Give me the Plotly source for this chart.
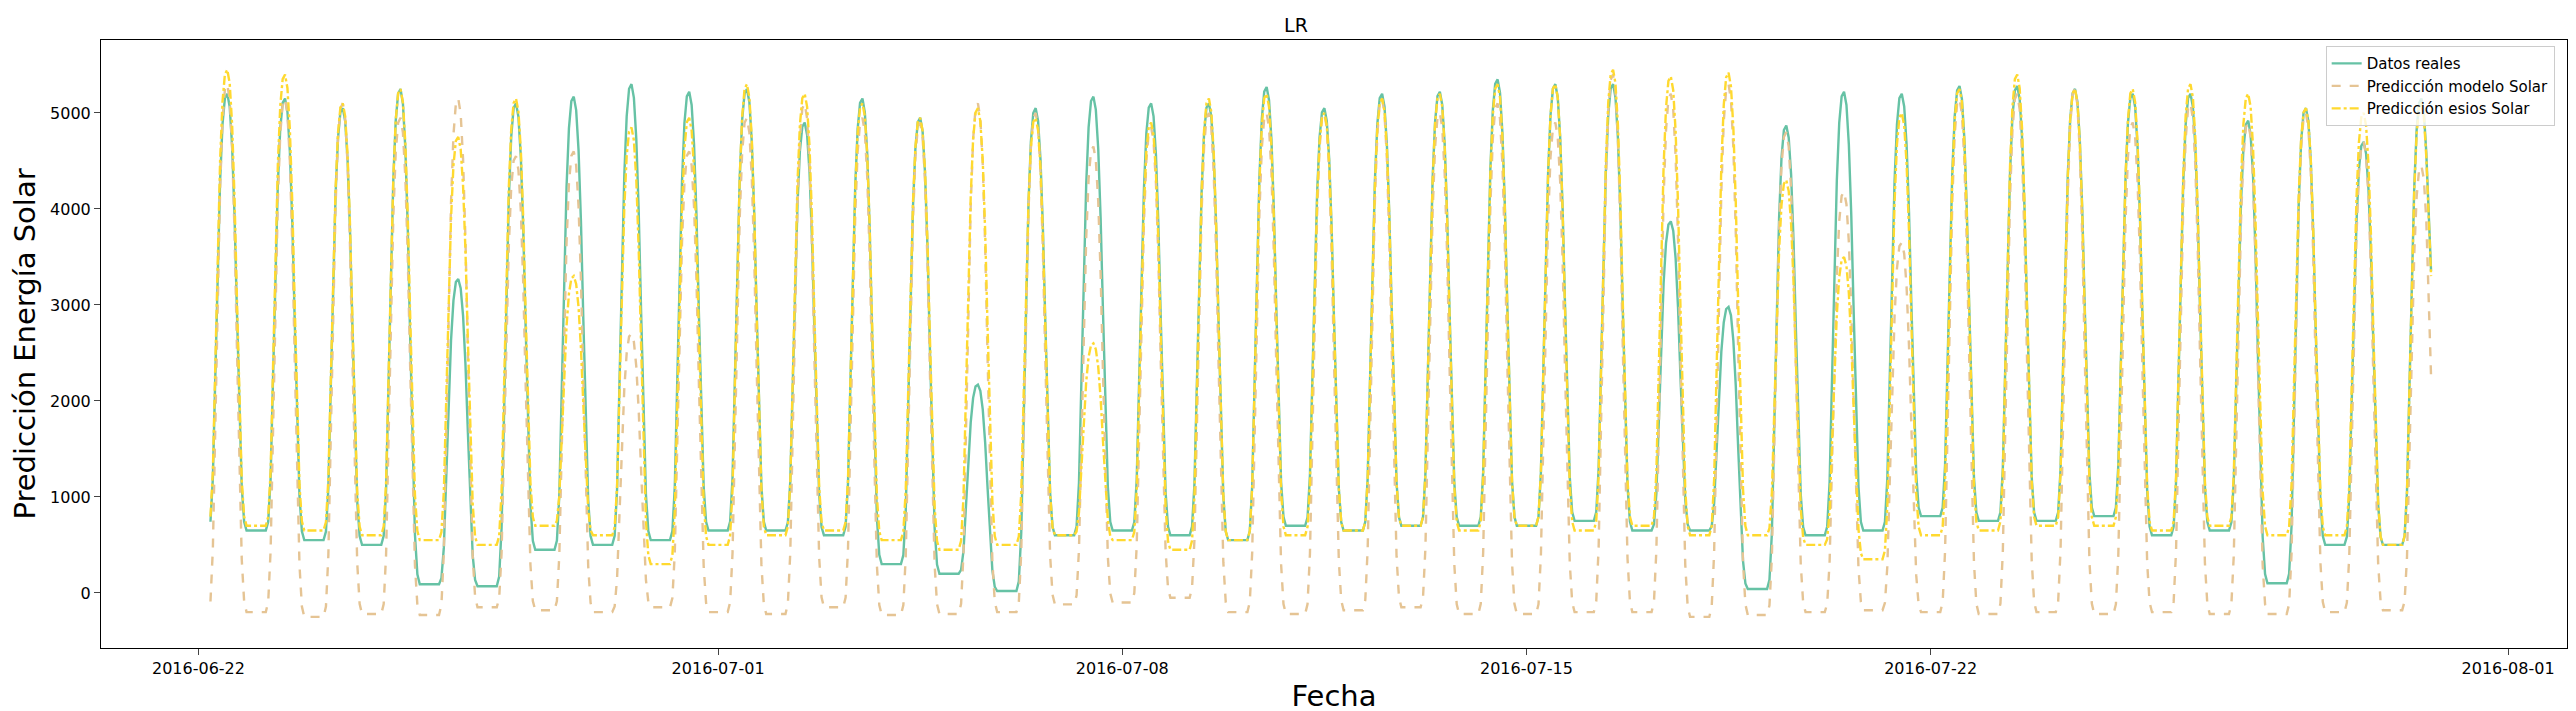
import plotly.graph_objects as go
import pandas as pd

# Daily peak values (one per day, 2016-06-22 .. 2016-07-30)
real_peak = [5200,5150,5050,5250,3270,5100,5170,5300,5220,5250,4900,5150,4950,2170,5050,
             5170,5100,5100,5270,5050,5200,5220,5350,5300,5300,3870,2980,4870,5220,5200,
             5280,5280,5250,5200,5200,4920,5050,4700,5150]
model_peak = [5300,5150,5100,4950,5150,4550,4600,2700,4600,4950,5100,4950,4900,5100,5000,
              4650,4850,5000,5000,5000,5150,5000,5100,4900,5400,5200,5300,4800,4180,3650,
              5150,5200,5250,4900,5100,4900,5000,4700,4450]
esios_peak = [5450,5400,5100,5250,4750,5150,3300,4850,4950,5300,5200,5100,4950,5050,4950,
              2600,4900,5150,5200,5000,5150,5200,5300,5300,5450,5380,5420,4300,3500,5000,
              5250,5400,5250,5250,5300,5200,5050,5000,5100]
# Night levels (one per day)
real_night = [650,550,500,90,70,450,500,550,650,650,600,300,200,20,600,650,600,550,700,650,
              700,700,700,750,650,650,40,600,650,800,750,750,800,600,650,100,500,500]
model_night = [-200,-250,-220,-230,-150,-180,-200,-150,-200,-220,-150,-230,-220,-200,-120,-100,
               -50,-200,-220,-180,-150,-220,-220,-200,-200,-250,-230,-200,-180,-200,-220,-200,
               -220,-200,-220,-220,-200,-180]
esios_night = [700,650,600,550,500,700,600,300,500,600,650,550,450,500,600,550,450,550,600,650,
               700,650,700,650,700,600,600,500,350,600,650,700,700,650,700,600,600,500]
# Last values of each series (end of data)
end_vals = [3350, 2250, 3300]
# Fixed hourly daylight profile (fraction of peak above night level), hours 0..23
profile = [0,0,0,0,0,0.02,0.12,0.35,0.6,0.8,0.93,0.99,1.0,0.97,0.88,0.72,0.5,0.28,0.1,0.02,0,0,0,0]

times, real, model, esios = [], [], [], []
start = pd.Timestamp("2016-06-22")
last = len(real_peak) - 1
for d in range(len(real_peak)):
    for h in range(24):
        if (d == 0 and h < 5) or (d == last and h > 14):
            continue
        f = profile[h]
        i = d if (h > 12 or d == 0) else d - 1
        i = min(i, len(real_night) - 1)
        times.append(start + pd.Timedelta(days=d, hours=h))
        real.append(real_night[i] + (real_peak[d] - real_night[i]) * f)
        model.append(model_night[i] + (model_peak[d] - model_night[i]) * f)
        esios.append(esios_night[i] + (esios_peak[d] - esios_night[i]) * f)
times.append(start + pd.Timedelta(days=last, hours=16))
real.append(end_vals[0]); model.append(end_vals[1]); esios.append(end_vals[2])

fig = go.Figure()
fig.add_trace(go.Scatter(x=times, y=real, mode="lines", name="Datos reales",
                         line=dict(color="#66c2a5", width=2.4)))
fig.add_trace(go.Scatter(x=times, y=model, mode="lines", name="Predicción modelo Solar",
                         line=dict(color="#e5c494", width=2.4, dash="dash")))
fig.add_trace(go.Scatter(x=times, y=esios, mode="lines", name="Predicción esios Solar",
                         line=dict(color="#ffd92f", width=2.4, dash="dashdot")))

tickvals = ["2016-06-22", "2016-07-01", "2016-07-08", "2016-07-15", "2016-07-22", "2016-08-01"]
fig.update_layout(
    width=2576, height=711, plot_bgcolor="white", paper_bgcolor="white",
    margin=dict(l=87, r=17, t=32, b=66),
    font=dict(family="DejaVu Sans", color="black", size=16),
    title=dict(text="LR", x=0.5, xanchor="center", y=0.985, yanchor="top", font=dict(size=19)),
    legend=dict(x=0.995, y=0.99, xanchor="right", yanchor="top", bordercolor="#cccccc",
                borderwidth=1, bgcolor="rgba(255,255,255,0.8)", font=dict(size=15)),
    showlegend=True,
)
fig.update_xaxes(range=["2016-06-20 07:30", "2016-08-02 00:30"], tickvals=tickvals,
                 ticktext=tickvals, showgrid=False, showline=True, linecolor="black", mirror=True,
                 ticks="outside", ticklen=6, zeroline=False,
                 title=dict(text="Fecha", font=dict(size=29), standoff=8))
fig.update_yaxes(range=[-574, 5760], tickvals=[0, 1000, 2000, 3000, 4000, 5000], showgrid=False,
                 showline=True, linecolor="black", mirror=True, ticks="outside", ticklen=6,
                 zeroline=False, title=dict(text="Predicción Energía Solar", font=dict(size=29), standoff=10))
fig.write_html("out.html")
